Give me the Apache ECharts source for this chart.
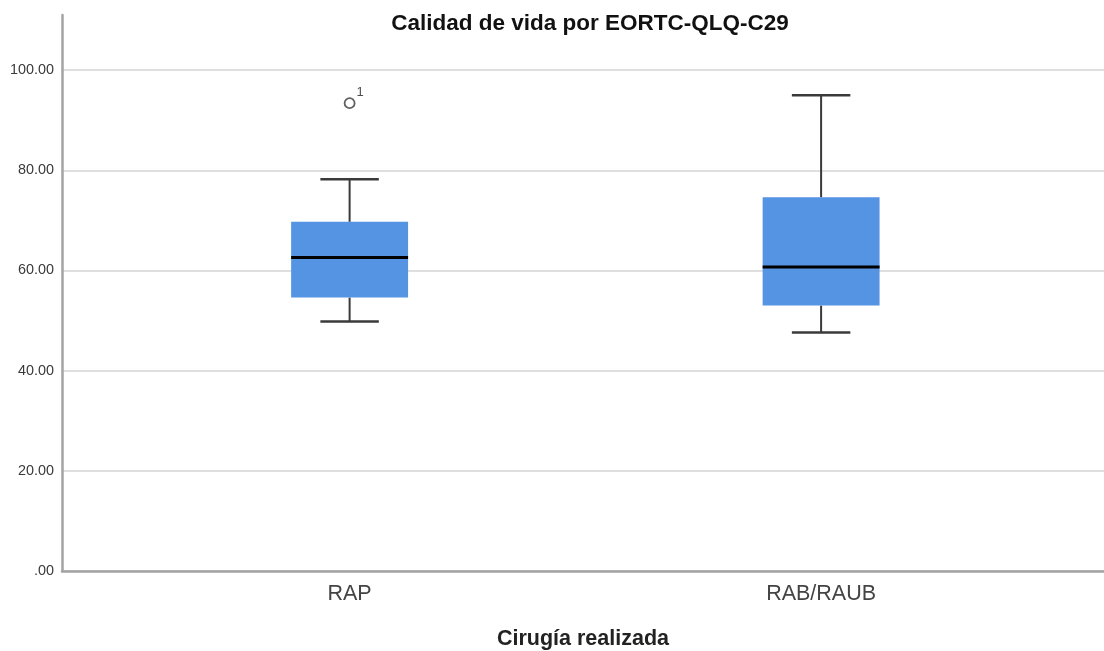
<!DOCTYPE html>
<html>
<head>
<meta charset="utf-8">
<script src="https://cdn.jsdelivr.net/npm/echarts@6/dist/echarts.min.js"></script>
<style>
  html, body { margin: 0; padding: 0; background: #fff; }
  #chart { width: 1104px; height: 651px; }
</style>
</head>
<body>
<div id="chart"></div>
<script>
// Quality-of-life scores (EORTC-QLQ-C29) by surgery type
const categories = ['RAP', 'RAB/RAUB'];
const whiskerLow = [49.8, 47.6];
const q1 = [54.6, 53.0];
const median = [62.6, 60.7];
const q3 = [69.7, 74.6];
const whiskerHigh = [78.2, 95.0];
// outliers: [category index, value, case label]
const outliers = [[0, 93.4, '1']];
const yTicks = [0, 20, 40, 60, 80, 100];

const boxData = categories.map((c, i) => [i, whiskerLow[i], q1[i], median[i], q3[i], whiskerHigh[i]]);

const BOX_HALF = 0.124;   // half box width in category units
const CAP_HALF = 0.062;   // half whisker-cap width

function renderBox(params, api) {
  const x = api.value(0);
  const pLow = api.coord([x, api.value(1)]);
  const pQ1 = api.coord([x, api.value(2)]);
  const pMed = api.coord([x, api.value(3)]);
  const pQ3 = api.coord([x, api.value(4)]);
  const pHigh = api.coord([x, api.value(5)]);
  const left = api.coord([x - BOX_HALF, 0])[0];
  const right = api.coord([x + BOX_HALF, 0])[0];
  const capL = api.coord([x - CAP_HALF, 0])[0];
  const capR = api.coord([x + CAP_HALF, 0])[0];
  const cx = pMed[0];
  const whiskerStyle = { stroke: '#3a3a3a', lineWidth: 2 };
  const capStyle = { stroke: '#3a3a3a', lineWidth: 2.5 };
  return {
    type: 'group',
    children: [
      { type: 'line', shape: { x1: cx, y1: pHigh[1], x2: cx, y2: pQ3[1] }, style: whiskerStyle },
      { type: 'line', shape: { x1: cx, y1: pQ1[1], x2: cx, y2: pLow[1] }, style: whiskerStyle },
      { type: 'line', shape: { x1: capL, y1: pHigh[1], x2: capR, y2: pHigh[1] }, style: capStyle },
      { type: 'line', shape: { x1: capL, y1: pLow[1], x2: capR, y2: pLow[1] }, style: capStyle },
      { type: 'rect', shape: { x: left, y: pQ3[1], width: right - left, height: pQ1[1] - pQ3[1] }, style: { fill: '#5593e3' } },
      { type: 'line', shape: { x1: left, y1: pMed[1], x2: right, y2: pMed[1] }, style: { stroke: '#000', lineWidth: 3 } }
    ]
  };
}

const chart = echarts.init(document.getElementById('chart'), null, { renderer: 'canvas' });
chart.setOption({
  animation: false,
  title: {
    text: 'Calidad de vida por EORTC-QLQ-C29',
    left: 585, top: 7, textAlign: 'center',
    textStyle: { fontFamily: 'Liberation Sans', fontWeight: 'bold', fontSize: 22.5, color: '#111' }
  },
  grid: { left: 62, right: 0, top: 15, bottom: 80, containLabel: false, outerBoundsMode: 'none' },
  xAxis: {
    type: 'value',
    min: -0.61, max: 1.6,
    name: 'Cirugía realizada',
    nameLocation: 'middle',
    nameGap: 57,
    nameTextStyle: { fontFamily: 'Liberation Sans', fontWeight: 'bold', fontSize: 21.5, color: '#222' },
    axisLine: { show: true, onZero: false, lineStyle: { color: '#a3a3a3', width: 2.5 } },
    axisTick: { show: false, customValues: [0, 1] },
    splitLine: { show: false },
    axisLabel: {
      customValues: [0, 1],
      formatter: v => categories[Math.round(v)] || '',
      margin: 12,
      fontFamily: 'Liberation Sans', fontSize: 21.5, color: '#444'
    }
  },
  yAxis: {
    type: 'value',
    min: 0, max: 111,
    axisLine: { show: true, onZero: false, lineStyle: { color: '#a3a3a3', width: 2.5 } },
    axisTick: { show: false, customValues: yTicks },
    splitLine: { show: true, lineStyle: { color: '#d4d4d4', width: 1.5 } },
    axisLabel: {
      customValues: yTicks,
      formatter: v => v === 0 ? '.00' : v.toFixed(2),
      margin: 8,
      fontFamily: 'Liberation Sans', fontSize: 14.4, color: '#3a3a3a'
    }
  },
  series: [
    {
      type: 'custom',
      renderItem: renderBox,
      data: boxData,
      encode: { x: 0, y: [1, 2, 3, 4, 5] },
      z: 3
    },
    {
      type: 'scatter',
      data: outliers,
      symbol: 'circle',
      symbolSize: 10,
      itemStyle: { color: '#fff', borderColor: '#3a3a3a', borderWidth: 1.8 },
      label: {
        show: true,
        position: 'right',
        offset: [-4, -11],
        formatter: p => p.value[2],
        fontFamily: 'Liberation Sans', fontSize: 13, color: '#222'
      },
      z: 4
    }
  ]
});
</script>
</body>
</html>
